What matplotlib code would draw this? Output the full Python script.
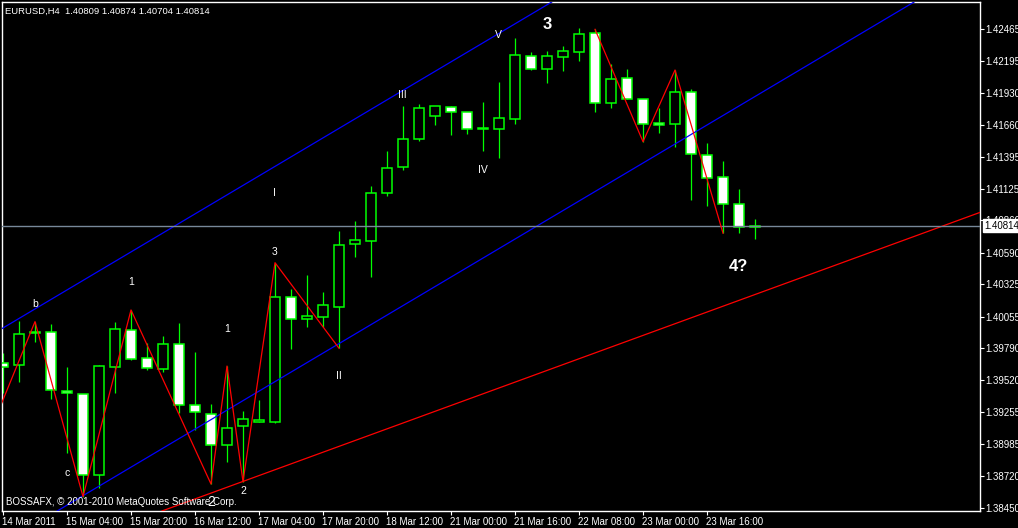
import matplotlib
matplotlib.use("Agg")
import matplotlib.pyplot as plt
import matplotlib.transforms as mtransforms
import numpy as np

plt.rcParams['font.family'] = ['Liberation Sans', 'DejaVu Sans']

# ---------------- data ----------------
opens = [1.39665, 1.39646, 1.39917, 1.39923, 1.39431, 1.39403, 1.38724, 1.39634,
         1.39946, 1.39705, 1.39619, 1.39822, 1.39311, 1.39235, 1.38976, 1.39135,
         1.39171, 1.39168, 1.40221, 1.40032, 1.40049, 1.40137, 1.40660, 1.40691,
         1.41093, 1.41311, 1.41540, 1.41738, 1.41809, 1.41767, 1.41632, 1.41624,
         1.41713, 1.42236, 1.42132, 1.42228, 1.42275, 1.42429, 1.41842, 1.42052,
         1.41876, 1.41675, 1.41666, 1.41937, 1.41406, 1.41222, 1.40996, 1.40809]
highs = [1.39749, 1.40018, 1.40012, 1.39992, 1.39629, 1.39406, 1.39651, 1.40009,
         1.40110, 1.39836, 1.39892, 1.40001, 1.39758, 1.39319, 1.39640, 1.39263,
         1.39355, 1.40506, 1.40283, 1.40400, 1.40261, 1.40772, 1.40856, 1.41149,
         1.41442, 1.41820, 1.41836, 1.41820, 1.41820, 1.41770, 1.41853, 1.42021,
         1.42390, 1.42272, 1.42281, 1.42322, 1.42473, 1.42462, 1.42172, 1.42127,
         1.41876, 1.41805, 1.42121, 1.41962, 1.41510, 1.41359, 1.41124, 1.40874]
lows = [1.39414, 1.39509, 1.39844, 1.39361, 1.38909, 1.38545, 1.38615, 1.39417,
        1.39694, 1.39607, 1.39593, 1.39244, 1.39104, 1.38651, 1.38838, 1.38670,
        1.39168, 1.39162, 1.39783, 1.39970, 1.39970, 1.39789, 1.40556, 1.40389,
        1.41065, 1.41283, 1.41529, 1.41660, 1.41577, 1.41587, 1.41445, 1.41381,
        1.41669, 1.42121, 1.42012, 1.42115, 1.42199, 1.41772, 1.41805, 1.41874,
        1.41520, 1.41596, 1.41478, 1.41032, 1.40984, 1.40753, 1.40753, 1.40704]
closes = [1.39632, 1.39909, 1.39925, 1.39439, 1.39414, 1.38727, 1.39640, 1.39948,
          1.39696, 1.39621, 1.39822, 1.39311, 1.39255, 1.38976, 1.39118, 1.39193,
          1.39185, 1.40216, 1.40032, 1.40059, 1.40149, 1.40652, 1.40693, 1.41088,
          1.41300, 1.41543, 1.41800, 1.41817, 1.41767, 1.41629, 1.41629, 1.41716,
          1.42245, 1.42132, 1.42236, 1.42278, 1.42421, 1.41842, 1.42043, 1.41876,
          1.41671, 1.41658, 1.41937, 1.41415, 1.41214, 1.40996, 1.40803, 1.40814]

time_labels = ["14 Mar 2011", "15 Mar 04:00", "15 Mar 20:00", "16 Mar 12:00",
               "17 Mar 04:00", "17 Mar 20:00", "18 Mar 12:00", "21 Mar 00:00",
               "21 Mar 16:00", "22 Mar 08:00", "23 Mar 00:00", "23 Mar 16:00"]
time_label_bars = [0, 4, 8, 12, 16, 20, 24, 28, 32, 36, 40, 44]

price_ticks = [1.42465, 1.42195, 1.41930, 1.41660, 1.41395, 1.41125, 1.40860, 1.40590,
               1.40325, 1.40055, 1.39790, 1.39520, 1.39255, 1.38985, 1.38720, 1.38450]

current_price = 1.40814
title_text = "EURUSD,H4  1.40809 1.40874 1.40704 1.40814"
copyright_text = "BOSSAFX, \u00a9 2001-2010 MetaQuotes Software Corp."

# zigzag legs (bar index, price)
zigzag1_bars = [-1, 2, 5, 8, 13, 14, 15, 17, 21]
zigzag1_prices = [1.39028, 1.40012, 1.38545, 1.40110, 1.38651, 1.39640, 1.38670, 1.40506, 1.39789]
zigzag2_bars = [37, 40, 42, 45]
zigzag2_prices = [1.42462, 1.41520, 1.42121, 1.40753]

# channel and trend lines: anchor (bar, price) and slope per bar
channel_upper = (0, 1.39959, 0.0007966)
channel_lower = (21, 1.39828, 0.0007966)
trend_red = (15, 1.38673, 0.0004895)

# wave labels (text, bar, price, size, bold)
wave_labels = [
    ("b", 2, 1.40160, 7.5, False),
    ("c", 4, 1.38743, 7.5, False),
    ("1", 8, 1.40344, 7.5, False),
    ("1", 14, 1.39950, 7.5, False),
    ("2", 15, 1.38592, 7.5, False),
    ("2", 13, 1.38500, 10, False),
    ("3", 17, 1.40596, 7.5, False),
    ("I", 16.94, 1.41090, 7.5, False),
    ("II", 21, 1.39556, 7.5, False),
    ("III", 24.94, 1.41912, 7.5, False),
    ("IV", 30, 1.41283, 7.5, False),
    ("V", 30.94, 1.42415, 7.5, False),
    ("3", 34, 1.42499, 12, True),
    ("4?", 45.94, 1.40470, 12, True),
]

# ---------------- figure ----------------
W, H = 1018, 528
fig = plt.figure(figsize=(W / 100, H / 100), dpi=100, facecolor='black')
ax = fig.add_axes([2 / W, (H - 511) / H, (980 - 2) / W, (511 - 2) / H])
ax.set_facecolor('black')

lime = '#00ff00'
n = len(opens)
x = np.arange(n)
o = np.array(opens); c = np.array(closes); hi = np.array(highs); lo = np.array(lows)

ax.vlines(x, lo, hi, color=lime, lw=0.9, zorder=2)
bull = c >= o
body_bottom = np.minimum(o, c)
body_h = np.abs(c - o)
ax.bar(x, body_h, bottom=body_bottom, width=0.6,
       color=np.where(bull, 'black', 'white'), edgecolor=lime, linewidth=1.1, zorder=3)

# lines
for (b0, p0, s), col in [(channel_upper, '#0000ff'), (channel_lower, '#0000ff'), (trend_red, '#ff0000')]:
    ax.axline((b0, p0), slope=s, color=col, lw=0.9, zorder=4)

ax.plot(zigzag1_bars, zigzag1_prices, color='#ff0000', lw=0.9, zorder=5)
ax.plot(zigzag2_bars, zigzag2_prices, color='#ff0000', lw=0.9, zorder=5)

ax.axhline(current_price, color='#778899', lw=1.0, zorder=4)

for txt, b, p, sz, bold in wave_labels:
    ax.text(b, p, txt, color='white', fontsize=sz, fontweight='bold' if bold else 'normal',
            ha='center', va='center', zorder=6)

ax.set_xlim(-0.0625, 61.06)
ax.set_ylim(1.38425, 1.42691)

for sp in ax.spines.values():
    sp.set_color('white')
    sp.set_linewidth(1.0)

ax.yaxis.tick_right()
ax.set_yticks(price_ticks)
ax.set_yticklabels([f"{v:.5f}" for v in price_ticks])
ax.tick_params(axis='y', colors='white', labelcolor='white', length=3, width=0.8,
               pad=1, labelsize=7)
ax.set_xticks(time_label_bars)
ax.set_xticklabels(time_labels, ha='left')
ax.tick_params(axis='x', colors='white', labelcolor='white', length=3, width=0.8,
               pad=1.5, labelsize=7)
offset = mtransforms.ScaledTranslation(-1 / 100, 0, fig.dpi_scale_trans)
for lab in ax.get_xticklabels():
    lab.set_transform(lab.get_transform() + offset)

# current price marker on the right axis
trans = mtransforms.blended_transform_factory(ax.transAxes, ax.transData)
ax.text(1.0 + 4 / 978, current_price, f"{current_price:.5f}", transform=trans,
        color='black', fontsize=7, ha='left', va='center', clip_on=False, zorder=10,
        bbox=dict(boxstyle='square,pad=0.15', facecolor='white', edgecolor='white'))

fig.text(5 / W, 1 - 11 / H, title_text, color='white', fontsize=6.8, ha='left', va='center')
fig.text(6 / W, 1 - 502 / H, copyright_text, color='white', fontsize=7, ha='left',
         va='center', zorder=10)

fig.savefig('out.png', dpi=100, facecolor='black')
